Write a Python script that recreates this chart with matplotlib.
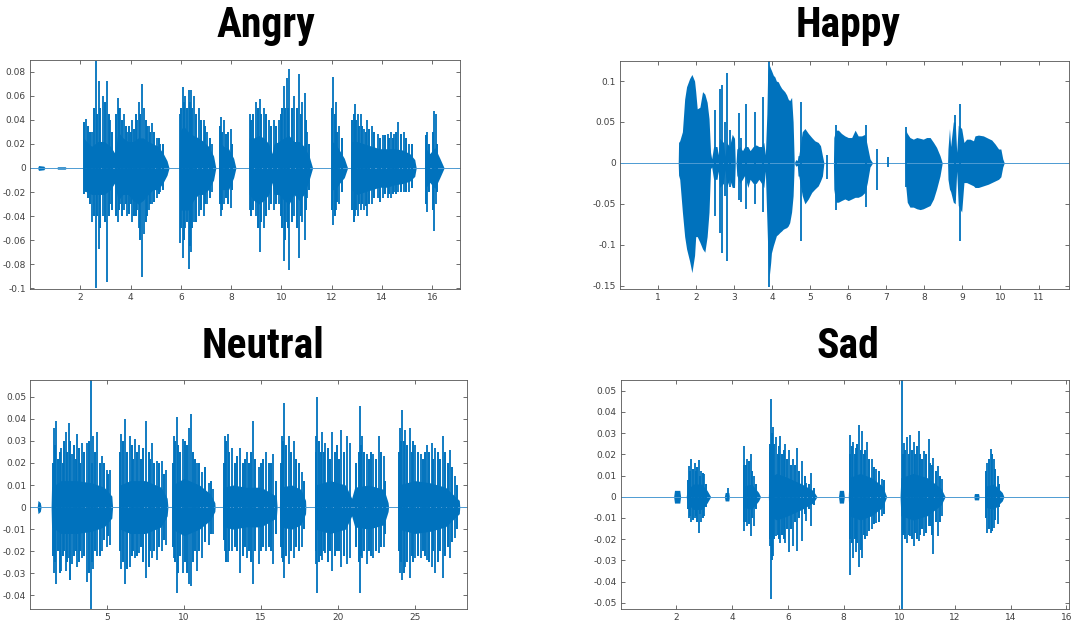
import numpy as np
import matplotlib.pyplot as plt

# ---- Angry ----
angry_body_t  = [0.30, 0.34, 0.55, 0.60, 1.05, 1.10, 1.40, 1.45,
                 2.12, 2.14, 2.25, 2.45, 2.70, 2.95, 3.20, 3.38, 3.42, 3.50, 3.70, 3.90, 4.10, 4.30, 4.50, 4.70, 4.90, 5.10, 5.30, 5.45, 5.53,
                 5.93, 5.95, 6.10, 6.30, 6.50, 6.70, 6.90, 7.10, 7.30, 7.39,
                 7.50, 7.52, 7.70, 7.90, 8.10, 8.19,
                 8.70, 8.72, 8.90, 9.10, 9.30, 9.50, 9.62, 9.70, 9.90, 10.10, 10.30, 10.50, 10.70, 10.90, 11.10, 11.24,
                 11.99, 12.01, 12.15, 12.30, 12.50, 12.63,
                 12.75, 12.78, 13.00, 13.30, 13.60, 13.90, 14.20, 14.50, 14.80, 15.10, 15.30, 15.36,
                 15.70, 15.72, 15.90, 16.10, 16.30, 16.47]
angry_body_hi = [0, 0.002, 0.0015, 0, 0, 0.001, 0.001, 0,
                 0, 0.025, 0.022, 0.018, 0.022, 0.022, 0.018, 0.012, 0.018, 0.03, 0.025, 0.022, 0.022, 0.025, 0.025, 0.022, 0.02, 0.018, 0.012, 0.006, 0,
                 0, 0.03, 0.035, 0.03, 0.027, 0.025, 0.022, 0.018, 0.01, 0,
                 0, 0.022, 0.018, 0.016, 0.008, 0,
                 0, 0.025, 0.025, 0.027, 0.025, 0.02, 0.012, 0.02, 0.022, 0.025, 0.027, 0.022, 0.022, 0.018, 0.01, 0,
                 0, 0.022, 0.02, 0.015, 0.008, 0,
                 0, 0.022, 0.022, 0.02, 0.018, 0.016, 0.016, 0.016, 0.015, 0.012, 0.007, 0,
                 0, 0.017, 0.012, 0.017, 0.008, 0]
angry_body_lo = [0, -0.002, -0.0015, 0, 0, -0.001, -0.001, 0,
                 0, -0.018, -0.02, -0.022, -0.022, -0.022, -0.018, -0.012, -0.018, -0.027, -0.022, -0.022, -0.027, -0.03, -0.027, -0.022, -0.018, -0.018, -0.012, -0.006, 0,
                 0, -0.035, -0.035, -0.035, -0.027, -0.022, -0.022, -0.018, -0.01, 0,
                 0, -0.018, -0.018, -0.018, -0.008, 0,
                 0, -0.022, -0.027, -0.03, -0.027, -0.022, -0.012, -0.022, -0.022, -0.027, -0.03, -0.022, -0.027, -0.022, -0.01, 0,
                 0, -0.018, -0.018, -0.013, -0.008, 0,
                 0, -0.018, -0.022, -0.02, -0.018, -0.016, -0.016, -0.014, -0.013, -0.011, -0.007, 0,
                 0, -0.017, -0.012, -0.017, -0.008, 0]
angry_spk_t  = [2.23, 2.46, 2.62, 2.73, 2.90, 3.06, 3.20, 3.49, 3.59, 3.73, 3.86, 4.06, 4.26, 4.32, 4.46, 4.55, 4.72, 4.86, 5.05, 5.19,
                5.98, 6.09, 6.18, 6.32, 6.41, 6.52, 6.71, 6.91, 7.05, 7.25, 7.58, 7.71, 7.98,
                8.75, 8.97, 9.14, 9.30, 9.50, 9.70, 9.90, 10.10, 10.21, 10.31, 10.50, 10.70, 10.83, 10.92, 11.03,
                12.07, 12.16, 12.29, 12.92, 13.05, 13.16, 13.29, 13.42, 13.62, 13.82, 14.02, 14.22, 14.35, 14.48, 14.62, 14.88, 15.08,
                15.78, 16.08, 16.14]
angry_spk_hi = [0.041, 0.03, 0.089, 0.072, 0.06, 0.072, 0.04, 0.058, 0.05, 0.045, 0.03, 0.04, 0.04, 0.055, 0.07, 0.05, 0.035, 0.037, 0.025, 0.02,
                0.045, 0.067, 0.06, 0.065, 0.065, 0.06, 0.05, 0.04, 0.03, 0.02, 0.042, 0.04, 0.032,
                0.045, 0.055, 0.057, 0.05, 0.04, 0.04, 0.04, 0.068, 0.075, 0.082, 0.06, 0.078, 0.055, 0.062, 0.03,
                0.076, 0.055, 0.035, 0.053, 0.045, 0.045, 0.032, 0.04, 0.035, 0.028, 0.027, 0.028, 0.03, 0.028, 0.038, 0.03, 0.02,
                0.03, 0.047, 0.045]
angry_spk_lo = [-0.02, -0.045, -0.1, -0.067, -0.04, -0.095, -0.03, -0.045, -0.03, -0.035, -0.04, -0.045, -0.035, -0.05, -0.091, -0.055, -0.035, -0.03, -0.025, -0.02,
                -0.062, -0.075, -0.05, -0.084, -0.07, -0.045, -0.04, -0.04, -0.03, -0.02, -0.04, -0.03, -0.033,
                -0.035, -0.04, -0.07, -0.05, -0.035, -0.035, -0.03, -0.077, -0.045, -0.085, -0.04, -0.075, -0.045, -0.06, -0.025,
                -0.047, -0.035, -0.03, -0.04, -0.04, -0.035, -0.035, -0.04, -0.03, -0.025, -0.025, -0.025, -0.025, -0.02, -0.02, -0.02, -0.02,
                -0.037, -0.052, -0.03]
angry_hair_t  = [2.16, 2.30, 2.38, 2.55, 2.67, 2.80, 2.97, 3.13, 3.27,
                 3.44, 3.54, 3.66, 3.80, 3.93, 4.00, 4.13, 4.20, 4.38, 4.62, 4.66, 4.79, 4.95, 5.12, 5.30,
                 6.02, 6.14, 6.25, 6.36, 6.46, 6.60, 6.80, 6.97, 7.15,
                 7.54, 7.64, 7.78, 7.86, 8.05,
                 8.80, 8.88, 9.05, 9.20, 9.40, 9.57,
                 9.78, 9.97, 10.04, 10.15, 10.26, 10.40, 10.60, 10.76, 10.98, 11.10,
                 12.03, 12.11, 12.22, 12.40,
                 12.82, 12.87, 12.98, 13.10, 13.22, 13.35, 13.50, 13.70, 13.90, 14.10, 14.28, 14.42, 14.55, 14.75, 14.95, 15.18,
                 15.74, 15.85, 16.02, 16.20]
angry_hair_hi = [0.038, 0.035, 0.03, 0.05, 0.045, 0.05, 0.055, 0.045, 0.03,
                 0.045, 0.05, 0.04, 0.035, 0.035, 0.03, 0.032, 0.045, 0.045, 0.04, 0.035, 0.03, 0.03, 0.025, 0.02,
                 0.05, 0.055, 0.05, 0.055, 0.05, 0.045, 0.04, 0.035, 0.025,
                 0.035, 0.03, 0.028, 0.03, 0.02,
                 0.04, 0.045, 0.05, 0.045, 0.045, 0.035,
                 0.035, 0.045, 0.05, 0.05, 0.05, 0.05, 0.05, 0.045, 0.04, 0.02,
                 0.05, 0.045, 0.03, 0.025,
                 0.04, 0.045, 0.04, 0.035, 0.035, 0.03, 0.032, 0.03, 0.025, 0.027, 0.025, 0.025, 0.03, 0.028, 0.025, 0.02,
                 0.027, 0.02, 0.03, 0.02]
angry_hair_lo = [-0.022, -0.025, -0.03, -0.04, -0.04, -0.05, -0.045, -0.04, -0.035,
                 -0.04, -0.035, -0.04, -0.03, -0.038, -0.03, -0.04, -0.04, -0.06, -0.045, -0.04, -0.03, -0.028, -0.022, -0.018,
                 -0.05, -0.06, -0.045, -0.065, -0.05, -0.045, -0.035, -0.03, -0.025,
                 -0.03, -0.035, -0.025, -0.03, -0.018,
                 -0.04, -0.035, -0.05, -0.045, -0.04, -0.03,
                 -0.03, -0.04, -0.05, -0.06, -0.05, -0.045, -0.05, -0.04, -0.035, -0.018,
                 -0.035, -0.04, -0.028, -0.02,
                 -0.035, -0.045, -0.035, -0.03, -0.03, -0.032, -0.03, -0.025, -0.028, -0.022, -0.022, -0.022, -0.022, -0.02, -0.02, -0.017,
                 -0.03, -0.02, -0.035, -0.02]
angry_xticks = [2, 4, 6, 8, 10, 12, 14, 16]
angry_yticks = [-0.1, -0.08, -0.06, -0.04, -0.02, 0, 0.02, 0.04, 0.06, 0.08]
angry_ylabels = ['-0.1', '-0.08', '-0.06', '-0.04', '-0.02', '0', '0.02', '0.04', '0.06', '0.08']

# ---- Happy ----
happy_body_t  = [1.53, 1.54, 1.57, 1.64, 1.70, 1.75, 1.83, 1.89, 1.96, 1.99, 2.03, 2.10, 2.17, 2.23, 2.29, 2.34, 2.38,
                 2.41, 2.46, 2.55, 2.58, 2.62, 2.72, 2.76, 2.80, 2.88, 2.95, 3.01, 3.03,
                 3.05, 3.07, 3.15, 3.22, 3.28, 3.36, 3.42, 3.50, 3.58, 3.65, 3.72, 3.78, 3.82,
                 3.86, 3.88, 3.90, 3.92, 3.96, 3.98, 4.03, 4.07, 4.11, 4.16, 4.20, 4.25, 4.29, 4.33, 4.38, 4.42, 4.46, 4.51, 4.55, 4.58,
                 4.62, 4.66, 4.68, 4.70, 4.79, 4.86, 4.95, 5.04, 5.12, 5.21, 5.27, 5.32, 5.36,
                 5.61, 5.62, 5.67, 5.74, 5.82, 5.91, 6.00, 6.09, 6.18, 6.26, 6.35, 6.44, 6.50, 6.57, 6.64,
                 7.49, 7.51, 7.55, 7.62, 7.71, 7.80, 7.89, 7.97, 8.06, 8.15, 8.24, 8.32, 8.41, 8.47,
                 8.61, 8.62, 8.66, 8.69, 8.76, 8.81, 8.85, 8.89, 8.98, 9.04, 9.11, 9.20, 9.29,
                 9.33, 9.42, 9.55, 9.68, 9.77, 9.86, 9.95, 10.01, 10.06, 10.10]
happy_body_hi = [0, 0.025, 0.027, 0.038, 0.078, 0.093, 0.103, 0.108, 0.10, 0.087, 0.066, 0.068, 0.087, 0.084, 0.074, 0.054, 0.013,
                 0.005, 0.02, 0.02, 0.01, 0.03, 0.025, 0.008, 0.025, 0.02, 0.035, 0.03, 0,
                 0, 0.017, 0.02, 0.015, 0.02, 0.02, 0.015, 0.02, 0.022, 0.02, 0.02, 0.025, 0.01,
                 0.06, 0.107, 0.115, 0.12, 0.115, 0.113, 0.107, 0.105, 0.10, 0.099, 0.095, 0.091, 0.089, 0.087, 0.083, 0.078, 0.076, 0.08, 0.05, 0,
                 0.004, 0.003, 0.009, 0.009, 0.038, 0.042, 0.036, 0.031, 0.027, 0.025, 0.021, 0.009, 0,
                 0, 0.031, 0.04, 0.04, 0.036, 0.033, 0.031, 0.031, 0.04, 0.033, 0.033, 0.035, 0.021, 0.005, 0,
                 0, 0.04, 0.036, 0.031, 0.029, 0.031, 0.03, 0.029, 0.031, 0.031, 0.025, 0.019, 0.009, 0,
                 0, 0.017, 0.042, 0.02, 0.05, 0.05, 0.013, 0.046, 0.042, 0.025, 0.029, 0.029, 0.027,
                 0.033, 0.034, 0.033, 0.03, 0.028, 0.023, 0.017, 0.017, 0.005, 0]
happy_body_lo = [0, -0.015, -0.02, -0.06, -0.09, -0.105, -0.12, -0.134, -0.113, -0.09, -0.09, -0.097, -0.105, -0.109, -0.09, -0.06, -0.007,
                 -0.005, -0.02, -0.02, -0.01, -0.03, -0.025, -0.008, -0.03, -0.02, -0.03, -0.03, 0,
                 0, -0.015, -0.025, -0.02, -0.015, -0.03, -0.02, -0.025, -0.025, -0.02, -0.025, -0.03, -0.01,
                 -0.07, -0.1, -0.125, -0.14, -0.122, -0.11, -0.101, -0.095, -0.089, -0.087, -0.085, -0.083, -0.081, -0.08, -0.079, -0.077, -0.073, -0.06, -0.04, 0,
                 -0.004, -0.003, -0.016, -0.016, -0.04, -0.05, -0.044, -0.036, -0.032, -0.028, -0.022, -0.016, 0,
                 0, -0.032, -0.048, -0.048, -0.046, -0.044, -0.046, -0.044, -0.042, -0.042, -0.04, -0.036, -0.024, -0.005, 0,
                 0, -0.028, -0.048, -0.054, -0.054, -0.056, -0.057, -0.056, -0.054, -0.052, -0.044, -0.032, -0.016, 0,
                 0, -0.02, -0.032, -0.035, -0.048, -0.05, -0.01, -0.052, -0.06, -0.024, -0.024, -0.026, -0.028,
                 -0.03, -0.03, -0.028, -0.026, -0.024, -0.022, -0.02, -0.017, -0.005, 0]
happy_spk_t  = [2.49, 2.62, 2.68, 2.75, 2.82, 2.88, 3.12, 3.19, 3.32, 3.54, 3.75, 3.92,
                4.75, 5.43, 5.67, 6.46, 6.75, 7.04, 7.51, 8.81, 8.94]
happy_spk_hi = [0.065, 0.09, 0.095, 0.05, 0.11, 0.04, 0.061, 0.03, 0.072, 0.062, 0.08, 0.125,
                0.074, 0.01, 0.046, 0.046, 0.017, 0.007, 0.044, 0.058, 0.072]
happy_spk_lo = [-0.065, -0.085, -0.11, -0.04, -0.12, -0.03, -0.045, -0.048, -0.056, -0.05, -0.06, -0.152,
                -0.095, -0.02, -0.058, -0.054, -0.033, -0.005, -0.03, -0.045, -0.095]
happy_xticks = [1, 2, 3, 4, 5, 6, 7, 8, 9, 10, 11]
happy_yticks = [-0.15, -0.1, -0.05, 0, 0.05, 0.1]
happy_ylabels = ['-0.15', '-0.1', '-0.05', '0', '0.05', '0.1']

# ---- Neutral ----
neutral_body_t  = [0.45, 0.50, 0.65, 0.70,
                   1.35, 1.38, 2.0, 3.0, 4.0, 4.8, 5.3, 5.35,
                   5.80, 5.83, 6.5, 7.5, 8.5, 8.9, 8.95,
                   9.20, 9.23, 10.0, 11.0, 11.7, 12.0, 12.02,
                   12.50, 12.53, 13.2, 14.0, 15.0, 16.0, 16.05,
                   16.20, 16.23, 17.0, 17.6, 17.9, 17.92,
                   18.48, 18.50, 19.5, 20.5, 20.9, 21.1, 22.0, 23.0, 23.27, 23.30,
                   23.90, 23.93, 25.0, 26.0, 27.0, 27.9, 27.93]
neutral_body_hi = [0, 0.003, 0.002, 0,
                   0, 0.009, 0.012, 0.012, 0.011, 0.009, 0.005, 0,
                   0, 0.01, 0.012, 0.012, 0.009, 0.004, 0,
                   0, 0.01, 0.013, 0.01, 0.006, 0.002, 0,
                   0, 0.009, 0.01, 0.009, 0.009, 0.005, 0,
                   0, 0.009, 0.01, 0.008, 0.003, 0,
                   0, 0.01, 0.012, 0.01, 0.004, 0.009, 0.01, 0.008, 0.002, 0,
                   0, 0.01, 0.012, 0.011, 0.009, 0.003, 0]
neutral_body_lo = [-v for v in neutral_body_hi]
neutral_spk_t  = [1.53, 1.68, 1.97, 2.29, 2.51, 2.72, 3.05, 3.37, 3.66, 3.92, 4.09, 4.35, 4.67, 4.96, 5.17,
                  5.91, 6.19, 6.47, 6.84, 7.06, 7.54, 7.93, 8.25, 8.58, 8.84,
                  9.33, 9.51, 9.92, 10.31, 10.46, 10.85, 11.18, 11.61, 11.89,
                  12.69, 12.84, 13.13, 13.62, 14.10, 14.47, 14.86, 15.34, 15.79,
                  16.38, 16.53, 16.81, 17.13, 17.68,
                  18.59, 18.65, 18.98, 19.19, 19.63, 20.21, 20.60, 20.77, 21.42, 21.58, 21.90, 22.29, 22.66, 22.98,
                  24.07, 24.17, 24.39, 24.67, 25.03, 25.41, 25.80, 26.13, 26.34, 26.84, 27.32, 27.64]
neutral_spk_hi = [0.036, 0.039, 0.027, 0.034, 0.038, 0.024, 0.033, 0.029, 0.029, 0.0575, 0.032, 0.034, 0.023, 0.017, 0.017,
                  0.033, 0.040, 0.032, 0.031, 0.028, 0.039, 0.029, 0.021, 0.021, 0.017,
                  0.032, 0.041, 0.031, 0.036, 0.042, 0.020, 0.016, 0.011, 0.008,
                  0.032, 0.033, 0.027, 0.027, 0.025, 0.039, 0.018, 0.025, 0.024,
                  0.032, 0.047, 0.032, 0.030, 0.016,
                  0.032, 0.050, 0.034, 0.029, 0.034, 0.035, 0.032, 0.029, 0.046, 0.032, 0.024, 0.024, 0.032, 0.023,
                  0.036, 0.044, 0.035, 0.036, 0.028, 0.024, 0.028, 0.029, 0.027, 0.032, 0.026, 0.014]
neutral_spk_lo = [-0.030, -0.035, -0.029, -0.029, -0.023, -0.026, -0.027, -0.023, -0.034, -0.046, -0.028, -0.022, -0.020, -0.018, -0.017,
                  -0.028, -0.035, -0.027, -0.023, -0.021, -0.032, -0.023, -0.024, -0.020, -0.017,
                  -0.023, -0.039, -0.030, -0.035, -0.036, -0.029, -0.023, -0.017, -0.012,
                  -0.020, -0.025, -0.020, -0.030, -0.023, -0.035, -0.026, -0.020, -0.026,
                  -0.023, -0.032, -0.026, -0.023, -0.018,
                  -0.026, -0.039, -0.024, -0.021, -0.029, -0.027, -0.026, -0.023, -0.039, -0.023, -0.026, -0.023, -0.021, -0.018,
                  -0.030, -0.033, -0.027, -0.032, -0.023, -0.023, -0.024, -0.027, -0.030, -0.032, -0.023, -0.014]
neutral_hair_t  = [1.45, 1.60, 1.80, 1.90, 2.10, 2.20, 2.40, 2.60, 2.85, 2.95, 3.15, 3.25, 3.50, 3.80, 4.00, 4.20, 4.50, 4.80, 5.05,
                   5.85, 6.05, 6.30, 6.60, 6.70, 6.95, 7.20, 7.35, 7.70, 7.80, 8.05, 8.40, 8.70,
                   9.27, 9.42, 9.60, 9.75, 10.05, 10.18, 10.60, 10.70, 11.00, 11.35, 11.75,
                   12.60, 12.75, 12.95, 13.30, 13.45, 13.80, 13.95, 14.25, 14.35, 14.60, 15.00, 15.15, 15.50, 15.65, 15.95,
                   16.28, 16.45, 16.65, 16.95, 17.30, 17.45, 17.80,
                   18.55, 18.75, 18.88, 19.10, 19.35, 19.50, 19.80, 19.95, 20.10, 20.40, 21.20, 21.35, 21.50, 21.70, 22.05, 22.15, 22.45, 22.80, 23.10,
                   23.98, 24.12, 24.28, 24.50, 24.80, 24.92, 25.20, 25.55, 25.70, 25.95, 26.22, 26.50, 26.65, 27.00, 27.15, 27.45, 27.78]
neutral_hair_hi = [0.02, 0.028, 0.022, 0.025, 0.02, 0.03, 0.025, 0.03, 0.028, 0.022, 0.027, 0.02, 0.025, 0.03, 0.02, 0.025, 0.02, 0.02, 0.015,
                   0.025, 0.03, 0.025, 0.028, 0.022, 0.025, 0.022, 0.027, 0.025, 0.022, 0.02, 0.02, 0.015,
                   0.02, 0.03, 0.028, 0.025, 0.03, 0.028, 0.025, 0.022, 0.02, 0.018, 0.012,
                   0.02, 0.03, 0.025, 0.02, 0.023, 0.02, 0.022, 0.02, 0.025, 0.022, 0.02, 0.022, 0.02, 0.02, 0.012,
                   0.02, 0.03, 0.028, 0.025, 0.022, 0.02, 0.012,
                   0.025, 0.03, 0.025, 0.025, 0.027, 0.022, 0.025, 0.028, 0.022, 0.025, 0.02, 0.025, 0.028, 0.025, 0.022, 0.025, 0.022, 0.025, 0.012,
                   0.025, 0.03, 0.03, 0.028, 0.025, 0.03, 0.025, 0.022, 0.025, 0.025, 0.022, 0.025, 0.022, 0.025, 0.02, 0.018, 0.01]
neutral_hair_lo = [-0.022, -0.025, -0.02, -0.03, -0.022, -0.02, -0.025, -0.033, -0.022, -0.02, -0.025, -0.02, -0.022, -0.03, -0.025, -0.02, -0.022, -0.015, -0.013,
                   -0.02, -0.025, -0.028, -0.022, -0.02, -0.022, -0.018, -0.025, -0.027, -0.02, -0.02, -0.018, -0.015,
                   -0.018, -0.025, -0.03, -0.022, -0.025, -0.03, -0.025, -0.02, -0.02, -0.016, -0.012,
                   -0.015, -0.025, -0.02, -0.018, -0.02, -0.022, -0.018, -0.02, -0.025, -0.02, -0.02, -0.018, -0.018, -0.02, -0.012,
                   -0.018, -0.025, -0.022, -0.02, -0.018, -0.02, -0.01,
                   -0.02, -0.025, -0.022, -0.02, -0.025, -0.02, -0.022, -0.02, -0.02, -0.022, -0.018, -0.025, -0.022, -0.02, -0.02, -0.022, -0.02, -0.018, -0.012,
                   -0.02, -0.025, -0.03, -0.025, -0.022, -0.025, -0.022, -0.02, -0.022, -0.025, -0.02, -0.025, -0.02, -0.022, -0.018, -0.016, -0.01]
neutral_xticks = [5, 10, 15, 20, 25]
neutral_yticks = [-0.04, -0.03, -0.02, -0.01, 0, 0.01, 0.02, 0.03, 0.04, 0.05]
neutral_ylabels = ['-0.04', '-0.03', '-0.02', '-0.01', '0', '0.01', '0.02', '0.03', '0.04', '0.05']

# ---- Sad ----
sad_body_t  = [1.90, 1.93, 2.12, 2.15,
               2.35, 2.38, 2.60, 2.90, 3.10, 3.23,
               3.72, 3.75, 3.88, 3.90,
               4.37, 4.40, 4.70, 4.95, 5.02,
               5.30, 5.33, 5.60, 6.00, 6.50, 6.90, 7.05,
               7.82, 7.85, 8.00, 8.03,
               8.17, 8.20, 8.60, 9.00, 9.40, 9.55,
               10.03, 10.06, 10.50, 11.00, 11.50, 11.65,
               12.68, 12.70, 12.85, 12.87,
               13.08, 13.10, 13.40, 13.70, 13.76]
sad_body_hi = [0, 0.003, 0.003, 0,
               0, 0.003, 0.006, 0.006, 0.003, 0,
               0, 0.002, 0.002, 0,
               0, 0.005, 0.006, 0.002, 0,
               0, 0.009, 0.011, 0.009, 0.006, 0.003, 0,
               0, 0.003, 0.003, 0,
               0, 0.009, 0.011, 0.009, 0.005, 0,
               0, 0.009, 0.011, 0.009, 0.004, 0,
               0, 0.0015, 0.0015, 0,
               0, 0.005, 0.006, 0.002, 0]
sad_body_lo = [-v for v in sad_body_hi]
sad_spk_t  = [2.44, 2.53, 2.65, 2.80, 2.89, 2.98, 3.86,
              4.44, 4.54, 4.66, 4.80,
              5.35, 5.40, 5.47, 5.59, 5.73, 5.91, 6.03, 6.19, 6.33, 6.51, 6.67, 6.83,
              8.22, 8.34, 8.46, 8.56, 8.66, 8.84, 9.02, 9.18, 9.38,
              10.10, 10.16, 10.28, 10.40, 10.52, 10.70, 10.88, 11.06, 11.23, 11.41, 11.53,
              13.15, 13.29, 13.39, 13.53]
sad_spk_hi = [0.0145, 0.018, 0.016, 0.0175, 0.012, 0.0105, 0.004,
              0.024, 0.018, 0.020, 0.0097,
              0.021, 0.046, 0.033, 0.028, 0.0285, 0.025, 0.022, 0.0176, 0.023, 0.0168, 0.0066, 0.0113,
              0.029, 0.026, 0.023, 0.034, 0.031, 0.026, 0.0176, 0.0129, 0.0082,
              0.055, 0.0255, 0.028, 0.029, 0.026, 0.031, 0.0215, 0.027, 0.0184, 0.0145, 0.0082,
              0.016, 0.0223, 0.018, 0.0097]
sad_spk_lo = [-0.010, -0.012, -0.010, -0.017, -0.012, -0.009, -0.001,
              -0.016, -0.014, -0.0185, -0.014,
              -0.023, -0.048, -0.028, -0.0185, -0.0217, -0.0217, -0.026, -0.023, -0.0256, -0.021, -0.0115, -0.0138,
              -0.037, -0.029, -0.026, -0.033, -0.029, -0.0186, -0.0154, -0.0123, -0.0091,
              -0.0528, -0.017, -0.0217, -0.0186, -0.023, -0.021, -0.0186, -0.0138, -0.027, -0.0186, -0.0091,
              -0.017, -0.017, -0.0146, -0.013]
sad_hair_t  = [2.40, 2.48, 2.58, 2.70, 2.75, 2.85, 2.94, 3.05,
               4.42, 4.49, 4.59, 4.72, 4.86,
               5.37, 5.43, 5.52, 5.64, 5.68, 5.80, 5.86, 5.97, 6.10, 6.25, 6.40, 6.60, 6.75, 6.95,
               8.25, 8.30, 8.40, 8.50, 8.61, 8.72, 8.78, 8.92, 9.10, 9.28, 9.45,
               10.13, 10.22, 10.34, 10.46, 10.58, 10.64, 10.76, 10.82, 10.95, 11.12, 11.18, 11.32, 11.47,
               13.12, 13.22, 13.34, 13.45, 13.60]
sad_hair_hi = [0.008, 0.012, 0.013, 0.012, 0.014, 0.01, 0.011, 0.006,
               0.015, 0.015, 0.017, 0.012, 0.006,
               0.025, 0.03, 0.025, 0.02, 0.024, 0.02, 0.022, 0.018, 0.015, 0.015, 0.012, 0.01, 0.006, 0.004,
               0.02, 0.024, 0.02, 0.025, 0.022, 0.02, 0.022, 0.018, 0.014, 0.012, 0.008,
               0.02, 0.022, 0.02, 0.022, 0.02, 0.024, 0.02, 0.018, 0.02, 0.016, 0.015, 0.012, 0.01,
               0.012, 0.018, 0.02, 0.013, 0.006]
sad_hair_lo = [-0.006, -0.009, -0.011, -0.009, -0.012, -0.008, -0.01, -0.005,
               -0.012, -0.012, -0.013, -0.01, -0.006,
               -0.02, -0.03, -0.02, -0.018, -0.02, -0.018, -0.02, -0.015, -0.015, -0.012, -0.01, -0.008, -0.006, -0.004,
               -0.02, -0.022, -0.02, -0.022, -0.025, -0.018, -0.02, -0.016, -0.013, -0.012, -0.008,
               -0.018, -0.02, -0.018, -0.02, -0.017, -0.02, -0.018, -0.015, -0.017, -0.014, -0.018, -0.012, -0.012,
               -0.01, -0.015, -0.016, -0.011, -0.005]
sad_xticks = [2, 4, 6, 8, 10, 12, 14, 16]
sad_yticks = [-0.05, -0.04, -0.03, -0.02, -0.01, 0, 0.01, 0.02, 0.03, 0.04, 0.05]
sad_ylabels = ['-0.05', '-0.04', '-0.03', '-0.02', '-0.01', '0', '0.01', '0.02', '0.03', '0.04', '0.05']

blue = '#0072BD'


def wave(ax, body, spikes, hairs, xlim, ylim, xticks, yticks, ylabels):
    ax.plot(xlim, [0, 0], color='#4d9bd3', lw=0.7)
    ax.fill_between(body[0], body[2], body[1], color=blue, lw=0)
    if hairs is not None:
        ax.vlines(hairs[0], hairs[2], hairs[1], color=blue, lw=1.4)
    ax.vlines(spikes[0], spikes[2], spikes[1], color=blue, lw=1.3)
    ax.set_xlim(xlim)
    ax.set_ylim(ylim)
    ax.set_xticks(xticks)
    ax.set_xticklabels([str(x) for x in xticks])
    ax.set_yticks(yticks)
    ax.set_yticklabels(ylabels)
    ax.tick_params(direction='in', length=3, width=0.6, top=True, right=True,
                   labelsize=6.5, labelcolor='#404040', color='#555555', pad=3)
    for s in ax.spines.values():
        s.set_color('#555555')
        s.set_linewidth(0.6)


fig = plt.figure(figsize=(10.79, 6.26), dpi=100)
ax1 = fig.add_axes([0.0278, 0.5383, 0.3985, 0.3658])
ax2 = fig.add_axes([0.5746, 0.5383, 0.4161, 0.3647])
ax3 = fig.add_axes([0.0281, 0.0276, 0.4047, 0.3653])
ax4 = fig.add_axes([0.5753, 0.0276, 0.4155, 0.3653])

wave(ax1, (angry_body_t, angry_body_hi, angry_body_lo),
     (angry_spk_t, angry_spk_hi, angry_spk_lo),
     (angry_hair_t, angry_hair_hi, angry_hair_lo),
     [0, 17.1], [-0.1006, 0.0897], angry_xticks, angry_yticks, angry_ylabels)
wave(ax2, (happy_body_t, happy_body_hi, happy_body_lo),
     (happy_spk_t, happy_spk_hi, happy_spk_lo), None,
     [0, 11.8], [-0.154, 0.1248], happy_xticks, happy_yticks, happy_ylabels)
wave(ax3, (neutral_body_t, neutral_body_hi, neutral_body_lo),
     (neutral_spk_t, neutral_spk_hi, neutral_spk_lo),
     (neutral_hair_t, neutral_hair_hi, neutral_hair_lo),
     [0, 28.4], [-0.0461, 0.0576], neutral_xticks, neutral_yticks, neutral_ylabels)
wave(ax4, (sad_body_t, sad_body_hi, sad_body_lo),
     (sad_spk_t, sad_spk_hi, sad_spk_lo),
     (sad_hair_t, sad_hair_hi, sad_hair_lo),
     [0, 16.1], [-0.0528, 0.055], sad_xticks, sad_yticks, sad_ylabels)

tfont = dict(fontsize=30, fontweight='bold', ha='center', va='baseline',
             family=['Roboto Condensed', 'Roboto', 'DejaVu Sans'])
fig.text(0.2465, 0.941, 'Angry', **tfont)
fig.text(0.786, 0.941, 'Happy', **tfont)
fig.text(0.2433, 0.428, 'Neutral', **tfont)
fig.text(0.786, 0.428, 'Sad', **tfont)

fig.savefig('out.png', dpi=100)
